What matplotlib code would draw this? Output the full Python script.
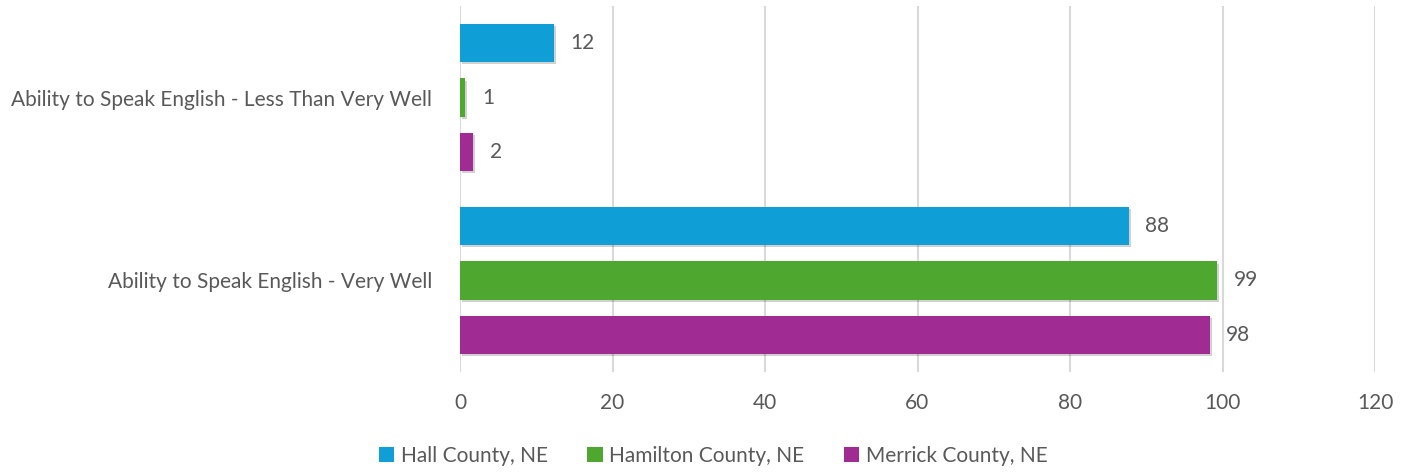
import numpy as np
import matplotlib
matplotlib.use('Agg')
from matplotlib import pyplot as plt
from matplotlib import patheffects as pe
from matplotlib.patches import Patch

plt.rcParams['font.family'] = ['Lato', 'DejaVu Sans']

categories = ['Ability to Speak English - Very Well',
              'Ability to Speak English - Less Than Very Well']
series = ['Hall County, NE', 'Hamilton County, NE', 'Merrick County, NE']
colors = ['#0F9ED5', '#4EA72E', '#A02B93']
# values per series, ordered as categories
hall = [87.7, 12.3]
hamilton = [99.3, 0.7]
merrick = [98.3, 1.7]
values = [hall, hamilton, merrick]
xticks = [0, 20, 40, 60, 80, 100, 120]

txt = '#595959'
fig = plt.figure(figsize=(14.08, 4.72), dpi=100)
ax = fig.add_axes([460/1408, 1-372/472, (1375-460)/1408, (372-6)/472])

step = 0.298
h = 0.208
offsets = [step, 0, -step]
ypos = np.arange(len(categories))
shadow = [pe.SimplePatchShadow(offset=(1.5, -1.5), shadow_rgbFace='black', alpha=0.18), pe.Normal()]
for vals, off, c in zip(values, offsets, colors):
    bars = ax.barh(ypos + off, vals, height=h, color=c, zorder=3)
    for b in bars:
        b.set_path_effects(shadow)
    for y, v in zip(ypos + off, vals):
        ax.text(v + 2.2, y, '%.0f' % v, va='center', ha='left', fontsize=15, color=txt)

ax.set_xlim(0, 120)
ax.set_ylim(-0.5, 1.5)
ax.set_xticks(xticks)
ax.set_yticks(ypos)
ax.set_yticklabels(categories)
ax.tick_params(length=0, labelsize=15, labelcolor=txt)
ax.tick_params(axis='x', pad=15)
ax.tick_params(axis='y', pad=20)
ax.grid(axis='x', color='#D9D9D9', linewidth=1.5, zorder=0)
for s in ax.spines.values():
    s.set_visible(False)

handles = [Patch(facecolor=c, edgecolor='none') for c in colors]
fig.legend(handles, series, loc='center', bbox_to_anchor=(713/1408, 1-456/472), ncol=3,
           frameon=False, fontsize=15, labelcolor=txt, handlelength=0.75, handleheight=0.75,
           handletextpad=0.3, columnspacing=1.9)

fig.savefig('out.png', dpi=100)
